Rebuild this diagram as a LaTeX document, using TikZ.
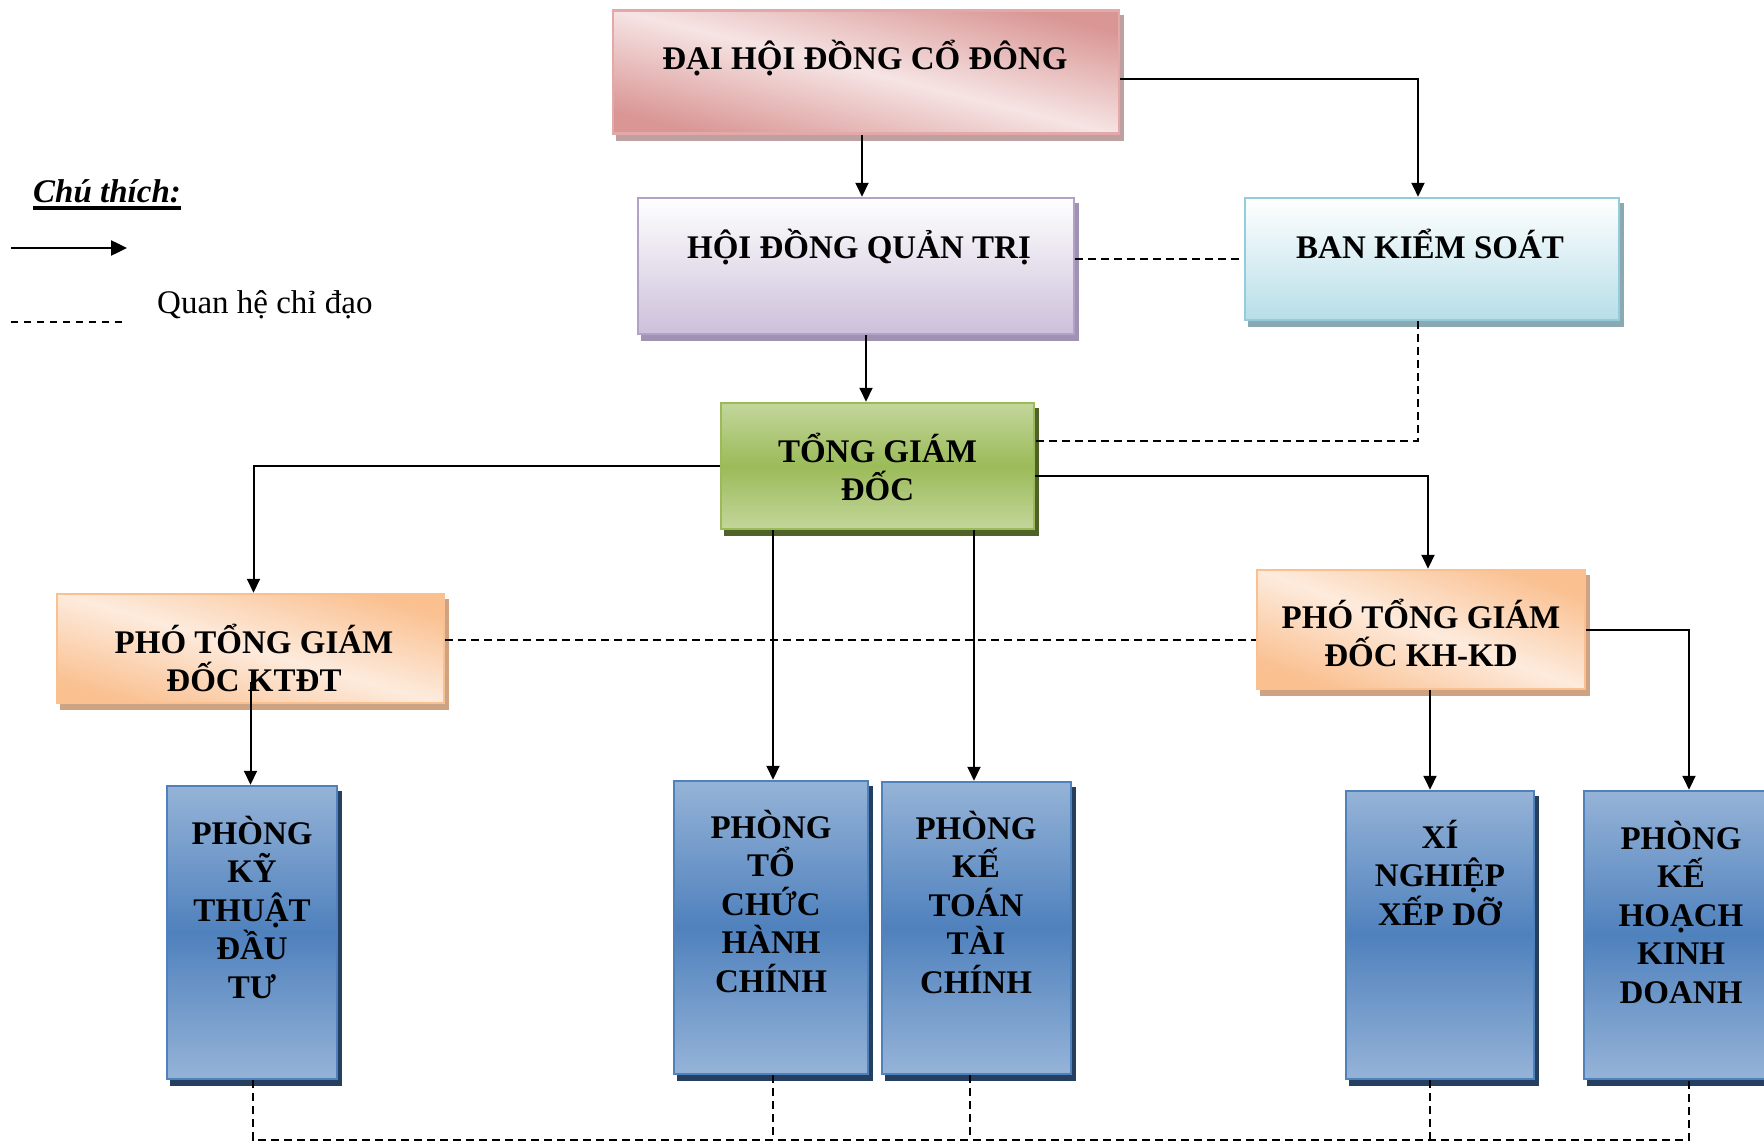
\documentclass[tikz,border=0pt]{standalone}
\usepackage{fontspec}
\setmainfont{Liberation Serif}
\usetikzlibrary{arrows.meta,backgrounds}

\definecolor{pinkD}{HTML}{D99694}
\definecolor{pinkL}{HTML}{F6E4E4}
\definecolor{pinkB}{HTML}{E2A9A8}
\definecolor{pinkS}{HTML}{BFA0A0}
\definecolor{lavB}{HTML}{B3A2C7}
\definecolor{lavD}{HTML}{CCC0DA}
\definecolor{lavS}{HTML}{A092B2}
\definecolor{cyaB}{HTML}{93CDDD}
\definecolor{cyaD}{HTML}{B7DEE8}
\definecolor{cyaS}{HTML}{8CA8B0}
\definecolor{grnL}{HTML}{C3D69B}
\definecolor{grnD}{HTML}{9BBB59}
\definecolor{grnS}{HTML}{4F6228}
\definecolor{orgD}{HTML}{FAC090}
\definecolor{orgL}{HTML}{FDEBDD}
\definecolor{orgS}{HTML}{CDA383}
\definecolor{bluL}{HTML}{95B3D7}
\definecolor{bluD}{HTML}{4F81BD}
\definecolor{bluB}{HTML}{4F81BD}
\definecolor{bluS}{HTML}{243F60}

\newcommand\mlines[1]{\begin{tabular}[t]{@{}c@{}}#1\end{tabular}}
\newcommand\sm[1]{\smash{#1}}

\begin{document}
\begin{tikzpicture}[x=1pt,y=-1pt,
  box/.style={rectangle, inner sep=0pt, line width=2.5pt},
  diagbox/.style n args={3}{box, top color=#1, bottom color=#1, middle color=#2, shading angle=#3},
  vbox/.style 2 args={box, top color=#1, bottom color=#2},
  vmid/.style 2 args={box, top color=#1, bottom color=#1, middle color=#2},
  txt/.style={inner sep=0pt, anchor=base, font=\bfseries\fontsize{33}{38.5}\selectfont},
  arr/.style={line width=2pt, -{Triangle[length=14pt,width=13pt]}},
  dsh/.style={line width=2pt, dash pattern=on 8pt off 5pt},
]
\clip (0,0) rectangle (1764,1145);

% boxes
\node[diagbox={pinkD}{pinkL}{-14}, draw=pinkB, minimum width=506pt, minimum height=123pt] (dhdcd) at (866,72) {};
\node[vbox={white}{lavD}, draw=lavB, minimum width=436pt, minimum height=136pt] (hdqt) at (856,266) {};
\node[vbox={white}{cyaD}, draw=cyaB, minimum width=374pt, minimum height=122pt] (bks) at (1432,259) {};
\node[vmid={grnL}{grnD}, draw=grnD, minimum width=313pt, minimum height=126pt] (tgd) at (877.5,466) {};
\node[diagbox={orgD}{orgL}{-16}, draw=orgD, minimum width=387pt, minimum height=109pt] (ptgd1) at (250.5,648.5) {};
\node[diagbox={orgD}{orgL}{-20}, draw=orgD, minimum width=328pt, minimum height=119pt] (ptgd2) at (1421,629.5) {};
\node[vmid={bluL}{bluD}, draw=bluB, minimum width=170pt, minimum height=293pt] (p1) at (252,932.5) {};
\node[vmid={bluL}{bluD}, draw=bluB, minimum width=194pt, minimum height=293pt] (p2) at (771,927.5) {};
\node[vmid={bluL}{bluD}, draw=bluB, minimum width=189pt, minimum height=292pt] (p3) at (976.5,928) {};
\node[vmid={bluL}{bluD}, draw=bluB, minimum width=188pt, minimum height=288pt] (p4) at (1440,935) {};
\node[vmid={bluL}{bluD}, draw=bluB, minimum width=194pt, minimum height=288pt] (p5) at (1681,935) {};

% shadows
\begin{scope}[on background layer]
\foreach \n/\c in {dhdcd/pinkS, hdqt/lavS, bks/cyaS, tgd/grnS, ptgd1/orgS, ptgd2/orgS, p1/bluS, p2/bluS, p3/bluS, p4/bluS, p5/bluS}
  \fill[\c] ([shift={(4,6)}]\n.north west) rectangle ([shift={(4,6)}]\n.south east);
\end{scope}

% texts
\node[txt] (dhdcd-t) at (865,70) {ĐẠI HỘI ĐỒNG CỔ ĐÔNG};
\node[txt] (hdqt-t) at (859,258) {HỘI ĐỒNG QUẢN TRỊ};
\node[txt] (bks-t) at (1430,258) {BAN KIỂM SOÁT};
\node[txt] (tgd-t) at (877.5,462) {\mlines{\sm{TỔNG GIÁM}\\\sm{ĐỐC}}};
\node[txt] (ptgd1-t) at (254,653) {\mlines{\sm{PHÓ TỔNG GIÁM}\\\sm{ĐỐC KTĐT}}};
\node[txt] (ptgd2-t) at (1421,628) {\mlines{\sm{PHÓ TỔNG GIÁM}\\\sm{ĐỐC KH-KD}}};
\node[txt] (p1-t) at (252,844) {\mlines{\sm{PHÒNG}\\\sm{KỸ}\\\sm{THUẬT}\\\sm{ĐẦU}\\\sm{TƯ}}};
\node[txt] (p2-t) at (771,838) {\mlines{\sm{PHÒNG}\\\sm{TỔ}\\\sm{CHỨC}\\\sm{HÀNH}\\\sm{CHÍNH}}};
\node[txt] (p3-t) at (976,839) {\mlines{\sm{PHÒNG}\\\sm{KẾ}\\\sm{TOÁN}\\\sm{TÀI}\\\sm{CHÍNH}}};
\node[txt] (p4-t) at (1440,848) {\mlines{\sm{XÍ}\\\sm{NGHIỆP}\\\sm{XẾP DỠ}}};
\node[txt] (p5-t) at (1681,849) {\mlines{\sm{PHÒNG}\\\sm{KẾ}\\\sm{HOẠCH}\\\sm{KINH}\\\sm{DOANH}}};

% connectors
\draw[arr] ([xshift=-4pt]dhdcd.south) -- ([xshift=-4pt]dhdcd.south |- hdqt.north);
\draw[arr] ([yshift=-7pt]dhdcd.east) -| ([xshift=-14pt]bks.north);
\draw[dsh] (bks.west -| hdqt.east) -- (bks.west);
\draw[arr] ([xshift=10pt]hdqt.south) -- ([xshift=10pt]hdqt.south |- tgd.north);
\draw[dsh] ([xshift=-14pt]bks.south) |- ([yshift=25pt]tgd.east);
\draw[arr] (tgd.west) -| ([xshift=3pt]ptgd1.north);
\draw[arr] ([yshift=-10pt]tgd.east) -| ([xshift=7pt]ptgd2.north);
\draw[arr] ([xshift=2pt]p2.north |- tgd.south) -- ([xshift=2pt]p2.north);
\draw[arr] ([xshift=-2.5pt]p3.north |- tgd.south) -- ([xshift=-2.5pt]p3.north);
\draw[dsh] ([yshift=8.5pt]ptgd1.east) -- ([yshift=8.5pt]ptgd1.east -| ptgd2.west);
\draw[arr] ([yshift=22pt]ptgd1.south) -- (ptgd1.south |- p1.north);
\draw[arr] ([xshift=9pt]ptgd2.south) -- ([xshift=9pt]ptgd2.south |- p4.north);
\draw[arr] (ptgd2.east) -| ([xshift=8pt]p5.north);

\coordinate (bus) at (0,1140);
\draw[dsh] ([xshift=1pt]p1.south) -- ([xshift=1pt]p1.south |- bus) -- ([xshift=8pt]p5.south |- bus) -- ([xshift=8pt]p5.south);
\draw[dsh] ([xshift=2pt]p2.south) -- ([xshift=2pt]p2.south |- bus);
\draw[dsh] ([xshift=-6.5pt]p3.south) -- ([xshift=-6.5pt]p3.south |- bus);
\draw[dsh] ([xshift=-10pt]p4.south) -- ([xshift=-10pt]p4.south |- bus);

% legend
\node[inner sep=0pt, anchor=base west, font=\bfseries\itshape\fontsize{33}{38}\selectfont] (legt) at (33,202) {Chú thích:};
\draw[line width=3.5pt] ([yshift=-6pt]legt.base west) -- ([yshift=-6pt]legt.base east);
\coordinate (la1) at (11,248);
\coordinate (la2) at (127,248);
\draw[line width=2.5pt, -{Triangle[length=16pt,width=15pt]}] (la1) -- (la2);
\node[inner sep=0pt, anchor=base west, font=\fontsize{33}{38}\selectfont] (legq) at (157,313) {Quan hệ chỉ đạo};
\coordinate (ld1) at (11,322);
\coordinate (ld2) at (127,322);
\draw[line width=2pt, dash pattern=on 7pt off 6pt] (ld1) -- (ld2);
\end{tikzpicture}
\end{document}
